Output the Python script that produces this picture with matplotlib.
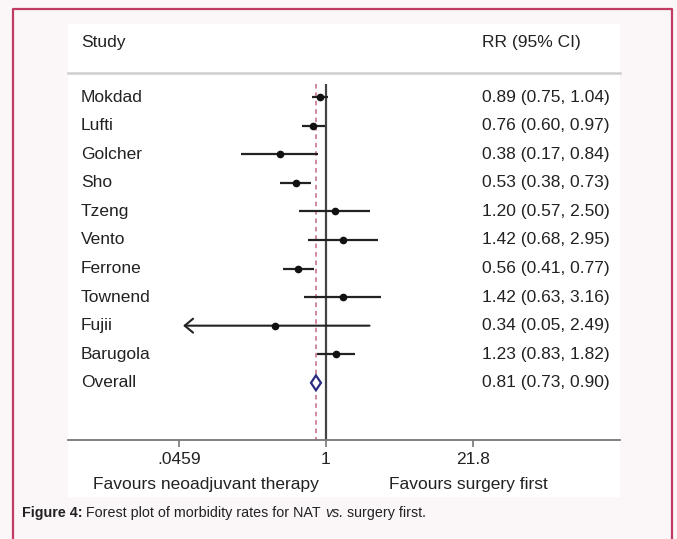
import numpy as np
import matplotlib.pyplot as plt
from matplotlib.patches import Rectangle, Polygon
from matplotlib.lines import Line2D

plt.rcParams['font.family'] = ['Liberation Sans', 'DejaVu Sans']

# study estimates (risk ratio and 95% CI)
studies = ["Mokdad", "Lufti", "Golcher", "Sho", "Tzeng", "Vento",
           "Ferrone", "Townend", "Fujii", "Barugola"]
rr = [0.89, 0.76, 0.38, 0.53, 1.20, 1.42, 0.56, 1.42, 0.34, 1.23]
lo = [0.75, 0.60, 0.17, 0.38, 0.57, 0.68, 0.41, 0.63, 0.05, 0.83]
hi = [1.04, 0.97, 0.84, 0.73, 2.50, 2.95, 0.77, 3.16, 2.49, 1.82]
clipped = [False, False, False, False, False, False, False, False, True, False]

overall = 0.81
overall_lo = 0.73
overall_hi = 0.90

tick_vals = [0.0459, 1, 21.8]
tick_labels = [".0459", "1", "21.8"]

txt = '#222222'
fs = 12.5
W, H = 677, 539

fig = plt.figure(figsize=(W / 100, H / 100), dpi=100)
fig.patch.set_facecolor('#fbf7f9')

def fx(px):
    return px / W

def fy(py):
    return 1 - py / H

# white panel + page frame
fig.patches.append(Rectangle((fx(68), fy(497)), fx(620) - fx(68), fy(24) - fy(497),
                             transform=fig.transFigure, facecolor='white',
                             edgecolor='none', zorder=-1))
frame = '#c23b62'
fig.lines.append(Line2D([fx(13), fx(13), fx(672), fx(672)],
                        [0, fy(9), fy(9), 0], transform=fig.transFigure,
                        color=frame, lw=1.6))

ax = fig.add_axes([fx(68), fy(440), fx(620) - fx(68), fy(73) - fy(440)])
ax.set_zorder(2)
ax.set_facecolor('none')
ax.set_xscale('log')
ax.set_xlim(0.00448, 475)
ax.set_ylim(12.0, -0.84)

for s in ['left', 'right']:
    ax.spines[s].set_visible(False)
ax.spines['top'].set_color('#cfcfcf')
ax.spines['top'].set_linewidth(1.8)
ax.spines['bottom'].set_color('#777777')
ax.spines['bottom'].set_linewidth(1.3)

ax.set_xticks(tick_vals)
ax.set_xticklabels(tick_labels)
ax.xaxis.set_minor_locator(plt.NullLocator())
ax.tick_params(axis='x', length=5, width=1.2, color='#777777',
               labelsize=fs, labelcolor=txt, pad=4)
ax.set_yticks([])

# reference lines
ax.vlines(1, -0.45, 12.0, color='#444444', lw=1.6, zorder=2)
ax.vlines(overall, -0.45, 12.0, color='#c06a80', lw=1.1,
          linestyles=(0, (3, 2.5)), zorder=2)

# study CIs and point estimates
for i in range(len(studies)):
    if clipped[i]:
        ax.annotate('', xy=(lo[i], i), xytext=(hi[i], i),
                    arrowprops=dict(arrowstyle='->,head_length=0.6,head_width=0.5',
                                    color='#222222', lw=1.5, shrinkA=0, shrinkB=0),
                    zorder=3)
    else:
        ax.hlines(i, lo[i], hi[i], color='#222222', lw=1.6, zorder=3)
    ax.plot(rr[i], i, 'o', color='#111111', ms=4.5, zorder=4)

# pooled estimate diamond
yo = len(studies)
dh = 0.26
ax.add_patch(Polygon([(overall_lo, yo), (overall, yo - dh), (overall_hi, yo),
                      (overall, yo + dh)], closed=True, facecolor='white',
                     edgecolor='#2b2b80', lw=1.6, zorder=5))

# text columns
names = studies + ["Overall"]
labels = ["%.2f (%.2f, %.2f)" % (r, l, h) for r, l, h in zip(rr, lo, hi)]
labels.append("%.2f (%.2f, %.2f)" % (overall, overall_lo, overall_hi))
xname = 0.0236
xrr = 0.75
tr = ax.get_yaxis_transform()
ax.text(xname, -1.92, "Study", transform=tr, fontsize=fs, color=txt,
        va='center', ha='left', clip_on=False)
ax.text(xrr, -1.92, "RR (95% CI)", transform=tr, fontsize=fs, color=txt,
        va='center', ha='left', clip_on=False)
for i, (n, l) in enumerate(zip(names, labels)):
    ax.text(xname, i, n, transform=tr, fontsize=fs, color=txt, va='center', ha='left')
    ax.text(xrr, i, l, transform=tr, fontsize=fs, color=txt, va='center', ha='left')

ax.text(0.25, 13.55, "Favours neoadjuvant therapy", transform=tr, fontsize=fs,
        color=txt, va='center', ha='center', clip_on=False)
ax.text(0.725, 13.55, "Favours surgery first", transform=tr, fontsize=fs,
        color=txt, va='center', ha='center', clip_on=False)

# caption: bold label, plain text, italic "vs."
cap_parts = [("Figure 4:", 'bold', 'normal'),
             (" Forest plot of morbidity rates for NAT ", 'normal', 'normal'),
             ("vs.", 'normal', 'italic'),
             (" surgery first.", 'normal', 'normal')]
renderer = fig.canvas.get_renderer()
xpos = fx(22)
for s, w, st in cap_parts:
    t = fig.text(xpos, fy(513), s, fontsize=10.3, color=txt, fontweight=w,
                 fontstyle=st, va='center', ha='left')
    bb = t.get_window_extent(renderer=renderer)
    xpos += bb.width / W

fig.savefig('out.png', dpi=100, facecolor=fig.get_facecolor())
